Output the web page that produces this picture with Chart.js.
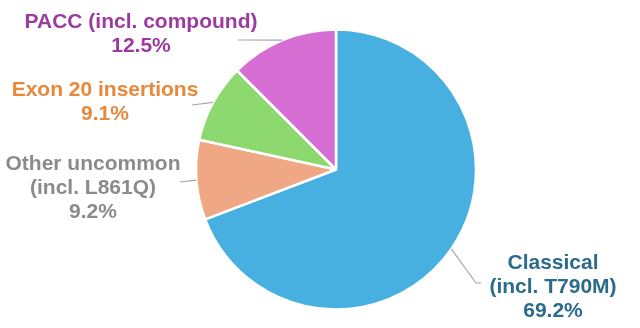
<!DOCTYPE html>
<html>
<head>
<meta charset="utf-8">
<script src="https://cdn.jsdelivr.net/npm/chart.js@4.4.1/dist/chart.umd.min.js"></script>
<style>
html,body{margin:0;padding:0;background:#fff;}
#wrap{width:640px;height:328px;position:relative;}
</style>
</head>
<body>
<div id="wrap"><canvas id="c" width="640" height="328"></canvas></div>
<script>
// Data (clockwise from 12 o'clock)
const categories = ['Classical (incl. T790M)', 'Other uncommon (incl. L861Q)', 'Exon 20 insertions', 'PACC (incl. compound)'];
const labelLines = [
  ['Classical', '(incl. T790M)'],
  ['Other uncommon', '(incl. L861Q)'],
  ['Exon 20 insertions'],
  ['PACC (incl. compound)']
];
const values = [69.2, 9.2, 9.1, 12.5];
const sliceColors = ['#47B0E0', '#F0A884', '#8ED870', '#D76ED3'];
const textColors = ['#2B6B8C', '#8B8B8B', '#E8883B', '#9C3B9F'];

// Label placement (layout only)
const labelLayout = [
  {x: 553, y: 263, path: [[476, 283], [481, 283]]},
  {x: 93,  y: 164, path: [[180, 182]]},
  {x: 105, y: 90,  path: [[192, 105]]},
  {x: 141, y: 22,  path: [[238, 40]]}
];

const labelPlugin = {
  id: 'outLabels',
  afterDatasetsDraw(chart) {
    const ctx = chart.ctx;
    const meta = chart.getDatasetMeta(0);
    ctx.save();
    meta.data.forEach((arc, i) => {
      const p = arc.getProps(['x', 'y', 'startAngle', 'endAngle', 'outerRadius'], true);
      const mid = (p.startAngle + p.endAngle) / 2;
      const sx = p.x + Math.cos(mid) * p.outerRadius;
      const sy = p.y + Math.sin(mid) * p.outerRadius;
      const L = labelLayout[i];
      ctx.beginPath();
      ctx.moveTo(sx, sy);
      L.path.forEach(pt => ctx.lineTo(pt[0], pt[1]));
      ctx.strokeStyle = '#A6A6A6';
      ctx.lineWidth = 1.2;
      ctx.stroke();

      const lines = labelLines[i].concat([values[i].toFixed(1) + '%']);
      ctx.fillStyle = textColors[i];
      ctx.font = 'bold 21px "Liberation Sans", Arial, sans-serif';
      ctx.textAlign = 'center';
      ctx.textBaseline = 'middle';
      lines.forEach((t, k) => ctx.fillText(t, L.x, L.y + k * 24));
    });
    ctx.restore();
  }
};

new Chart(document.getElementById('c'), {
  type: 'pie',
  data: {
    labels: categories,
    datasets: [{
      data: values,
      backgroundColor: sliceColors,
      borderColor: '#ffffff',
      borderWidth: 2.5,
      radius: 140
    }]
  },
  options: {
    responsive: false,
    animation: false,
    layout: {padding: {left: 190, right: 158, top: 19, bottom: 8}},
    plugins: {legend: {display: false}, tooltip: {enabled: false}}
  },
  plugins: [labelPlugin]
});
</script>
</body>
</html>
